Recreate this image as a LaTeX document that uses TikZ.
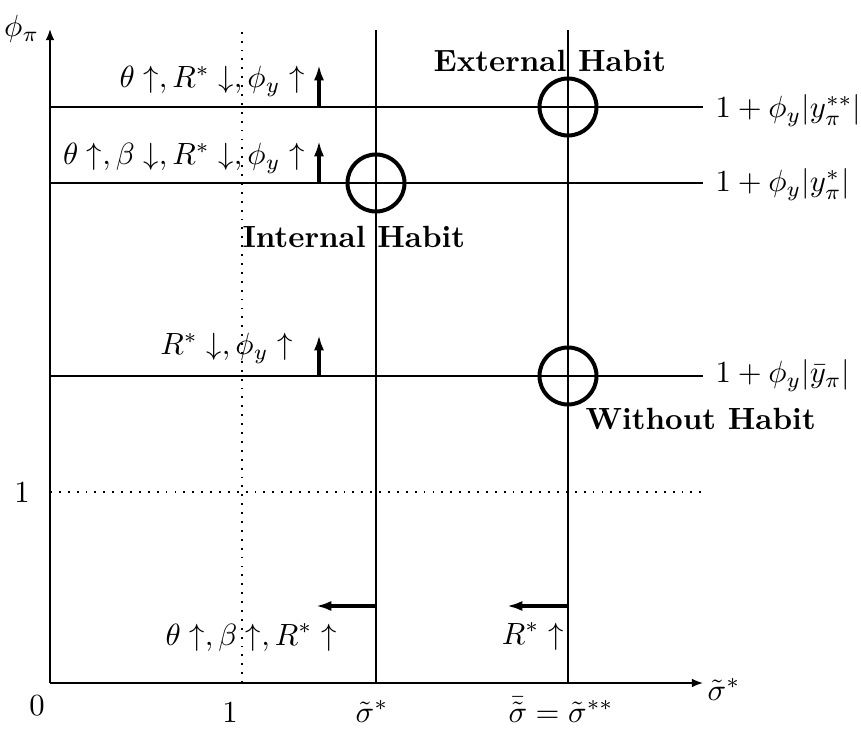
\documentclass[tikz,border=0pt]{standalone}
\usetikzlibrary{arrows.meta}
\begin{document}
\begin{tikzpicture}[x=0.326pt,y=-0.326pt,
  ax/.style={line width=0.55pt},
  axarrow/.style={line width=0.55pt,-{Latex[length=3.6pt,width=2.8pt]}},
  dotline/.style={line width=0.6pt,dash pattern=on 0.6pt off 2.3pt},
  shiftarrow/.style={line width=1.05pt,-{Latex[length=5pt,width=3.3pt]}},
  ring/.style={circle,draw,line width=1.3pt,minimum size=18.6pt,inner sep=0pt},
  lbl/.style={inner sep=0pt},
  habit/.style={inner sep=0pt,font=\bfseries}]
\useasboundingbox (0,0) rectangle (861,734);
% axes
\coordinate (O) at (50,683);
\coordinate (Ytop) at (50,29);
\coordinate (Xend) at (703,683);
\draw[axarrow] (O) -- (Ytop);
\draw[axarrow] (O) -- (Xend);
\node[left] (phipi) at (Ytop) {$\phi_\pi$};
\node[lbl,anchor=base west] (sigx) at (707,700) {$\tilde\sigma^*$};
% horizontal levels
\coordinate (h1a) at (50,107);  \coordinate (h1b) at (703,107);
\coordinate (h2a) at (50,183);  \coordinate (h2b) at (703,183);
\coordinate (h3a) at (50,376);  \coordinate (h3b) at (703,376);
\coordinate (h0a) at (50,492);  \coordinate (h0b) at (703,492);
\draw[ax] (h1a) -- (h1b);
\draw[ax] (h2a) -- (h2b);
\draw[ax] (h3a) -- (h3b);
\draw[dotline] (h0a) -- (h0b);
% vertical levels
\coordinate (v1a) at (376,683); \coordinate (v1b) at (376,30);
\coordinate (v2a) at (568,683); \coordinate (v2b) at (568,30);
\coordinate (v0a) at (242,683); \coordinate (v0b) at (242,32);
\draw[ax] (v1a) -- (v1b);
\draw[ax] (v2a) -- (v2b);
\draw[dotline] (v0a) -- (v0b);
% right labels
\node[lbl,anchor=base west] (l1) at (715,118) {$1+\phi_y|y^{**}_\pi|$};
\node[lbl,anchor=base west] (l2) at (715,192) {$1+\phi_y|y^{*}_\pi|$};
\node[lbl,anchor=base west] (l3) at (715,383) {$1+\phi_y|\bar y_\pi|$};
% tick labels
\node[lbl,anchor=base] (t0) at (37,715) {$0$};
\node[lbl,anchor=base] (t1) at (230,722) {$1$};
\node[lbl,anchor=base] (ty1) at (22,503) {$1$};
\node[lbl,anchor=base] (ts1) at (372,722) {$\tilde\sigma^*$};
\node[lbl,anchor=base] (ts2) at (561,722) {$\bar{\tilde\sigma}=\tilde\sigma^{**}$};
% equilibrium rings
\node[ring] (ext) at (568,107) {};
\node[ring] (int) at (376,183) {};
\node[ring] (wo) at (568,376) {};
\node[habit,anchor=base west] (extl) at (433,72) {External Habit};
\node[habit,anchor=base west] (intl) at (242,248) {Internal Habit};
\node[habit,anchor=base west] (wol) at (585,430) {Without Habit};
% shift arrows
\coordinate (u1a) at (319,107); \coordinate (u1b) at (319,65);
\coordinate (u2a) at (319,183); \coordinate (u2b) at (319,141);
\coordinate (u3a) at (319,376); \coordinate (u3b) at (319,335);
\draw[shiftarrow] (u1a) -- (u1b);
\draw[shiftarrow] (u2a) -- (u2b);
\draw[shiftarrow] (u3a) -- (u3b);
\coordinate (w1a) at (376,606); \coordinate (w1b) at (316,606);
\coordinate (w2a) at (568,606); \coordinate (w2b) at (507,606);
\draw[shiftarrow] (w1a) -- (w1b);
\draw[shiftarrow] (w2a) -- (w2b);
% shift labels
\node[lbl,anchor=base east] (s1) at (305,88) {$\theta\uparrow, R^*\downarrow, \phi_y\uparrow$};
\node[lbl,anchor=base east] (s2) at (305,165) {$\theta\uparrow, \beta\downarrow, R^*\downarrow, \phi_y\uparrow$};
\node[lbl,anchor=base east] (s3) at (293,355) {$R^*\downarrow, \phi_y\uparrow$};
\node[lbl,anchor=base east] (s4) at (337,645) {$\theta\uparrow, \beta\uparrow, R^*\uparrow$};
\node[lbl,anchor=base east] (s5) at (564,644) {$R^*\uparrow$};
\end{tikzpicture}
\end{document}
